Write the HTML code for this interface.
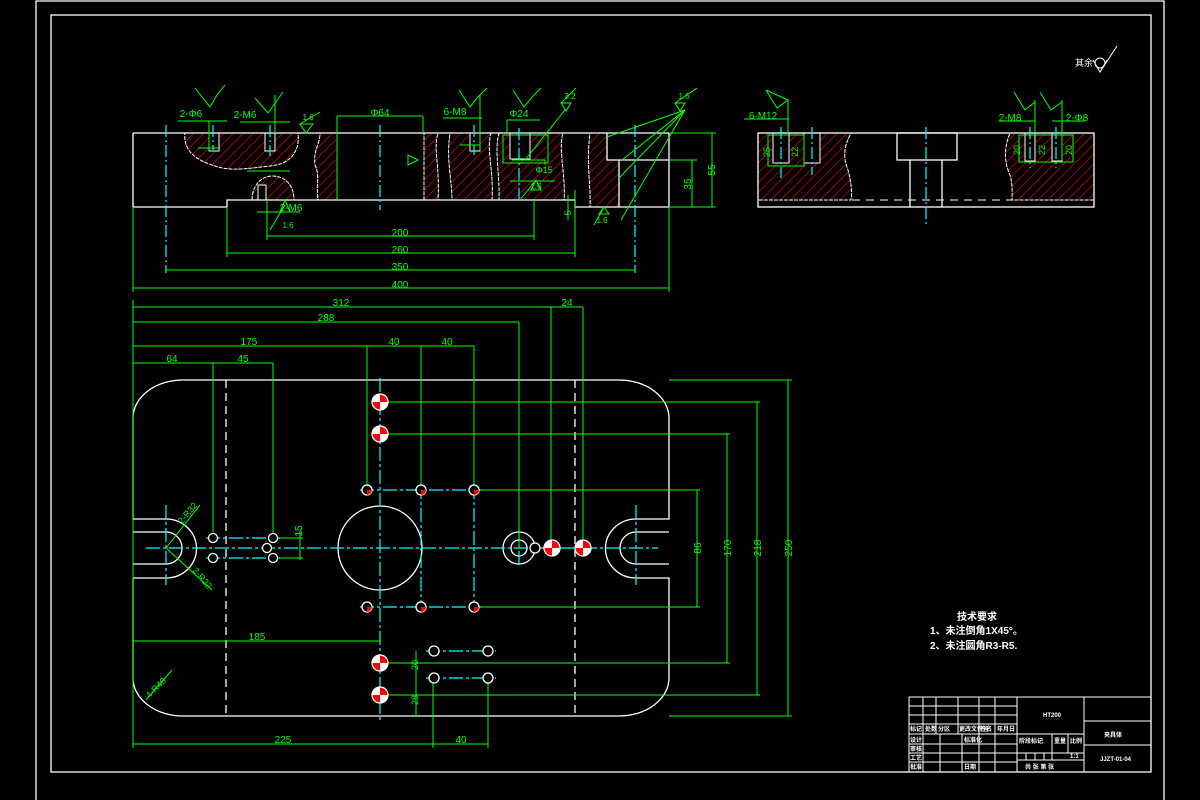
<!DOCTYPE html>
<html><head><meta charset="utf-8"><style>
html,body{margin:0;padding:0;background:#000;}
svg{display:block}
text{font-family:"Liberation Sans","Noto Sans CJK SC",sans-serif;}
</style></head><body>
<svg width="1200" height="800" viewBox="0 0 1200 800" xmlns="http://www.w3.org/2000/svg">
<defs>
<pattern id="h" patternUnits="userSpaceOnUse" width="7" height="7" patternTransform="rotate(45)">
<line x1="0" y1="0" x2="0" y2="7" stroke="#f00" stroke-width="1.2"/>
</pattern>
</defs>
<rect width="1200" height="800" fill="#000"/>
<g fill="none" stroke="#fff" stroke-width="1.3">
<polyline points="36,800 36,1 1164,1 1164,800"/>
<rect x="51" y="15" width="1100" height="757"/>
</g>

<!-- FRONT SECTION VIEW -->
<g fill="url(#h)" stroke="#fff" stroke-width="1" stroke-dasharray="4,1">
<path d="M185,133 L298,133 C300,150 292,164 270,166 C250,168 232,172 215,166 C195,160 183,150 185,133 Z"/>
<path d="M252,200 C252,185 262,176 272,176 C286,176 294,186 294,200 Z"/>
<path d="M320,133 L337,133 L337,200 L318,200 C316,185 320,175 315,165 C313,150 320,145 320,133Z"/>
<path d="M424,133 L438,133 C433,150 440,165 438,200 L424,200 Z"/>
<path d="M450,133 L491,133 C486,150 494,170 492,200 L452,200 C452,180 446,160 450,133Z"/>
<path d="M499,133 L563,133 C558,150 566,175 564,200 L499,200 C500,175 494,150 499,133Z"/>
<path d="M590,133 L607,133 L607,160 L619,160 L619,207 L590,207 C591,185 586,165 590,133Z"/>
</g>
<g fill="#000" stroke="#fff" stroke-width="1">
<rect x="209" y="133" width="10" height="18"/>
<rect x="265" y="133" width="10" height="18"/>
<rect x="470" y="133" width="10" height="18"/>
<rect x="510" y="133" width="20" height="26"/>
<rect x="258" y="185" width="8" height="15"/>
</g>
<g fill="none" stroke="#fff" stroke-width="1.3">
<polyline points="133,133 669,133 669,207"/>
<line x1="133" y1="133" x2="133" y2="207"/>
<line x1="133" y1="207" x2="227" y2="207"/>
<polyline points="227,207 227,200 575,200 575,207 669,207"/>
<polyline points="607,133 607,160 669,160"/>
<line x1="619" y1="160" x2="619" y2="207"/>
</g>
<g stroke="#0ff" stroke-width="1.2" stroke-dasharray="12,3,2,3">
<line x1="166" y1="125" x2="166" y2="273"/>
<line x1="380" y1="125" x2="380" y2="210"/>
<line x1="635" y1="125" x2="635" y2="273"/>
<line x1="519" y1="128" x2="519" y2="200"/>
<line x1="213" y1="125" x2="213" y2="150"/>
<line x1="270" y1="125" x2="270" y2="156"/>
<line x1="474" y1="125" x2="474" y2="155"/>
</g>
<g stroke="#0f0" stroke-width="1" fill="none">
<line x1="267" y1="236" x2="534" y2="236"/><line x1="267" y1="200" x2="267" y2="240"/><line x1="534" y1="200" x2="534" y2="240"/>
<line x1="227" y1="253" x2="575" y2="253"/><line x1="227" y1="207" x2="227" y2="257"/><line x1="575" y1="190" x2="575" y2="257"/>
<line x1="166" y1="270" x2="635" y2="270"/>
<line x1="133" y1="288" x2="669" y2="288"/><line x1="133" y1="207" x2="133" y2="292"/><line x1="669" y1="207" x2="669" y2="292"/>
<line x1="669" y1="133" x2="716" y2="133"/><line x1="669" y1="207" x2="716" y2="207"/><line x1="669" y1="160" x2="697" y2="160"/>
<line x1="712" y1="133" x2="712" y2="207"/><line x1="692" y1="160" x2="692" y2="207"/>
<line x1="337" y1="116" x2="423" y2="116"/><line x1="337" y1="116" x2="337" y2="200"/><line x1="423" y1="116" x2="423" y2="133"/>
<line x1="178" y1="121" x2="227" y2="121"/><line x1="209" y1="121" x2="209" y2="150"/>
<line x1="240" y1="122" x2="290" y2="122"/><line x1="275" y1="95" x2="275" y2="133"/>
<line x1="443" y1="118" x2="482" y2="118"/><line x1="480" y1="95" x2="480" y2="150"/>
<line x1="507" y1="120" x2="540" y2="120"/><line x1="507" y1="120" x2="507" y2="133"/>
<line x1="257" y1="212" x2="300" y2="212"/>
<line x1="622" y1="160" x2="685" y2="110"/><line x1="619" y1="178" x2="685" y2="110"/><line x1="607" y1="137" x2="685" y2="110"/><line x1="621" y1="220" x2="685" y2="110"/>
<line x1="525" y1="160" x2="565" y2="110"/>
<line x1="568" y1="195" x2="568" y2="220"/>
<path d="M512,160 L545,160 L545,165 M510,181 L555,181"/>
<rect x="503" y="135" width="45" height="28"/>
<line x1="247" y1="171" x2="290" y2="171"/>
<line x1="198" y1="148" x2="220" y2="148"/>
<line x1="460" y1="145" x2="480" y2="145"/>
</g>
<g stroke="#0f0" stroke-width="1" fill="none">
<path d="M195,88 L210,107 L217,95 L225,85"/>
<path d="M255,98 L268,113 L276,102 L283,92"/>
<path d="M300,124 L306,133 L313,124 L300,124 L320,112"/>
<path d="M459,90 L470,107 L478,97 L487,88"/>
<path d="M513,90 L524,107 L532,97 L541,88"/>
<path d="M561,103 L566,111 L571,103 Z M561,103 L576,88"/>
<path d="M675,103 L680,111 L685,103 Z M675,103 L697,88"/>
<path d="M408,165 L418,160 L408,155 Z"/>
<path d="M536,180 L531,190 L541,190 Z M536,180 L520,200"/>
<path d="M604,207 L599,214 L609,214 Z M604,207 L594,225"/>
<path d="M285,200 L280,212 L290,212 Z M285,205 L270,230"/>
</g>
<g fill="#0f0" font-size="10" text-anchor="middle">
<text x="400" y="236">200</text><text x="400" y="253">260</text><text x="400" y="270">350</text><text x="400" y="288">400</text>
<text x="380" y="116">Φ64</text><text x="191" y="117">2-Φ6</text><text x="245" y="118">2-M6</text>
<text x="455" y="115">6-M8</text><text x="519" y="117">Φ24</text><text x="291" y="211">2-M6</text>
<text x="308" y="120" font-size="8">1.6</text><text x="570" y="99" font-size="8">3.2</text><text x="684" y="99" font-size="8">1.6</text>
<text x="536" y="189" font-size="8">1.6</text><text x="602" y="223" font-size="8">1.6</text><text x="288" y="228" font-size="8">1.6</text>
<text x="544" y="173" font-size="9">Φ15</text>
<text transform="translate(715,170) rotate(-90)">55</text>
<text transform="translate(691,184) rotate(-90)">35</text>
<text transform="translate(571,213) rotate(-90)" font-size="9">5</text>
</g>

<!-- SIDE SECTION VIEW -->
<g fill="url(#h)" stroke="#fff" stroke-width="1" stroke-dasharray="4,1">
<path d="M758,133 L851,133 C845,145 842,155 848,170 C852,185 852,195 851,200 L758,200 Z"/>
<path d="M1094,133 L1010,133 C1005,145 1003,160 1010,175 C1013,185 1012,195 1012,200 L1094,200 Z"/>
</g>
<g fill="#000" stroke="#fff" stroke-width="1">
<rect x="773" y="133" width="16" height="30"/><rect x="804" y="133" width="16" height="30"/>
<rect x="1025" y="133" width="10" height="28"/><rect x="1052" y="133" width="10" height="28"/>
</g>
<g fill="none" stroke="#fff" stroke-width="1.3">
<rect x="758" y="133" width="336" height="74"/>
<rect x="897" y="133" width="60" height="27"/>
<polyline points="910,160 910,207"/><polyline points="942,160 942,207"/>
</g>
<line x1="852" y1="200" x2="1012" y2="200" stroke="#fff" stroke-width="1" stroke-dasharray="8,6"/>
<g stroke="#0ff" stroke-width="1.2" stroke-dasharray="12,3,2,3">
<line x1="926" y1="127" x2="926" y2="226"/>
<line x1="781" y1="127" x2="781" y2="178"/><line x1="812" y1="127" x2="812" y2="175"/>
<line x1="1030" y1="127" x2="1030" y2="168"/><line x1="1056" y1="127" x2="1056" y2="168"/>
</g>
<g stroke="#0f0" stroke-width="1" fill="none">
<line x1="744" y1="119" x2="789" y2="119"/><line x1="788" y1="100" x2="788" y2="133"/>
<path d="M766,90 L777,108 L788,100 L766,90"/>
<path d="M1014,92 L1025,110 L1035,102"/><path d="M1040,92 L1051,110 L1062,102"/>
<line x1="999" y1="121" x2="1035" y2="121"/><line x1="1052" y1="121" x2="1085" y2="121"/>
<line x1="1062" y1="100" x2="1062" y2="160"/><line x1="1035" y1="100" x2="1035" y2="133"/>
<rect x="768" y="135" width="36" height="31"/>
<rect x="1019" y="135" width="54" height="27"/>
</g>
<g fill="#0f0" font-size="10" text-anchor="middle">
<text x="763" y="119">6-M12</text><text x="1010" y="121">2-M8</text><text x="1077" y="121">2-Φ8</text>
<text transform="translate(770,152) rotate(-90)" font-size="9">25</text>
<text transform="translate(798,152) rotate(-90)" font-size="9">22</text>
<text transform="translate(1020,150) rotate(-90)" font-size="9">20</text>
<text transform="translate(1045,150) rotate(-90)" font-size="9">22</text>
<text transform="translate(1072,150) rotate(-90)" font-size="9">20</text>
</g>
<g fill="#fff" font-size="9"><text x="1075" y="66">其余</text></g>
<path d="M1093,60 L1100,72 L1107,60 M1100,72 L1117,46" stroke="#fff" fill="none"/>
<circle cx="1100" cy="63" r="5" stroke="#fff" fill="none"/>

<!-- PLAN VIEW -->
<g fill="none" stroke="#fff" stroke-width="1.3">
<path d="M183,380 L619,380 A50,38 0 0 1 669,418 L669,519 L636,519"/>
<path d="M636,578 L669,578 L669,678 A50,38 0 0 1 619,716 L183,716 A50,38 0 0 1 133,678 L133,578 L166,578"/>
<path d="M166,519 L133,519 L133,418 A50,38 0 0 1 183,380"/>
<line x1="133" y1="532" x2="166" y2="532"/><line x1="133" y1="564" x2="166" y2="564"/>
<line x1="636" y1="532" x2="669" y2="532"/><line x1="636" y1="564" x2="669" y2="564"/>
<path d="M166,519 A30,29 0 0 1 166,578"/><path d="M166,532 A16,16 0 0 1 166,564"/>
<path d="M636,519 A30,29 0 0 0 636,578"/><path d="M636,532 A16,16 0 0 0 636,564"/>
<circle cx="380" cy="548" r="42"/>
<circle cx="519" cy="548" r="16"/><circle cx="519" cy="548" r="8"/>
</g>
<g stroke="#fff" stroke-width="1.3" stroke-dasharray="8,5">
<line x1="226" y1="380" x2="226" y2="716"/><line x1="575" y1="380" x2="575" y2="716"/>
</g>
<g stroke="#0ff" stroke-width="1.2" stroke-dasharray="14,3,3,3">
<line x1="146" y1="548" x2="658" y2="548"/>
<line x1="380" y1="378" x2="380" y2="723"/>
<line x1="166" y1="505" x2="166" y2="585"/><line x1="636" y1="505" x2="636" y2="585"/>
<line x1="360" y1="490" x2="482" y2="490"/><line x1="360" y1="607" x2="482" y2="607"/>
<line x1="421" y1="485" x2="421" y2="612"/><line x1="474" y1="485" x2="474" y2="612"/>
<line x1="206" y1="538" x2="280" y2="538"/><line x1="206" y1="558" x2="280" y2="558"/>
<line x1="426" y1="651" x2="496" y2="651"/><line x1="426" y1="678" x2="496" y2="678"/>
<line x1="519" y1="528" x2="519" y2="568"/>
</g>
<g stroke="#0f0" stroke-width="1" fill="none">
<line x1="133" y1="307" x2="583" y2="307"/><line x1="133" y1="322" x2="519" y2="322"/>
<line x1="133" y1="346" x2="474" y2="346"/><line x1="133" y1="363" x2="273" y2="363"/>
<line x1="133" y1="300" x2="133" y2="748"/>
<line x1="583" y1="307" x2="583" y2="555"/><line x1="551" y1="307" x2="551" y2="555"/>
<line x1="519" y1="322" x2="519" y2="548"/>
<line x1="367" y1="346" x2="367" y2="490"/><line x1="421" y1="346" x2="421" y2="490"/><line x1="474" y1="346" x2="474" y2="490"/>
<line x1="213" y1="363" x2="213" y2="538"/><line x1="273" y1="363" x2="273" y2="538"/>
<line x1="669" y1="380" x2="792" y2="380"/><line x1="669" y1="716" x2="792" y2="716"/><line x1="788" y1="380" x2="788" y2="716"/>
<line x1="388" y1="402" x2="760" y2="402"/><line x1="388" y1="695" x2="760" y2="695"/><line x1="757" y1="402" x2="757" y2="695"/>
<line x1="388" y1="434" x2="730" y2="434"/><line x1="388" y1="663" x2="730" y2="663"/><line x1="727" y1="434" x2="727" y2="663"/>
<line x1="480" y1="490" x2="700" y2="490"/><line x1="480" y1="607" x2="700" y2="607"/><line x1="697" y1="490" x2="697" y2="607"/>
<line x1="133" y1="641" x2="380" y2="641"/>
<line x1="133" y1="744" x2="488" y2="744"/><line x1="433" y1="678" x2="433" y2="748"/><line x1="488" y1="678" x2="488" y2="748"/>
<line x1="416" y1="651" x2="416" y2="716"/>
<line x1="280" y1="538" x2="303" y2="538"/><line x1="280" y1="558" x2="303" y2="558"/><line x1="300" y1="530" x2="300" y2="560"/>
<line x1="166" y1="548" x2="200" y2="505"/><line x1="166" y1="548" x2="212" y2="590"/>
<line x1="146" y1="700" x2="172" y2="670"/>
</g>
<g fill="#0f0" font-size="10" text-anchor="middle">
<text x="341" y="306">312</text><text x="567" y="306">24</text><text x="326" y="321">288</text>
<text x="249" y="345">175</text><text x="394" y="345">40</text><text x="447" y="345">40</text>
<text x="172" y="362">64</text><text x="243" y="362">45</text>
<text x="257" y="640">185</text><text x="283" y="743">225</text><text x="461" y="743">40</text>
<text transform="translate(792,548) rotate(-90)">250</text>
<text transform="translate(761,548) rotate(-90)">218</text>
<text transform="translate(731,548) rotate(-90)">170</text>
<text transform="translate(701,548) rotate(-90)">86</text>
<text transform="translate(302,531) rotate(-90)">15</text>
<text transform="translate(418,665) rotate(-90)" font-size="9">20</text>
<text transform="translate(418,700) rotate(-90)" font-size="9">28</text>
<text transform="translate(190,515) rotate(-50)" font-size="9">2-R32</text>
<text transform="translate(200,580) rotate(50)" font-size="9">2-R22</text>
<text transform="translate(158,690) rotate(-45)" font-size="9">4-R40</text>
</g>
<g stroke="#fff" stroke-width="1.3">
<g fill="#f00">
<circle cx="380" cy="402" r="8"/><circle cx="380" cy="434" r="8"/><circle cx="380" cy="663" r="8"/><circle cx="380" cy="695" r="8"/>
<circle cx="552" cy="548" r="8"/><circle cx="583" cy="548" r="8"/>
</g>
<g fill="#000">
<circle cx="367" cy="490" r="5"/><circle cx="421" cy="490" r="5"/><circle cx="474" cy="490" r="5"/>
<circle cx="367" cy="607" r="5"/><circle cx="421" cy="607" r="5"/><circle cx="474" cy="607" r="5"/>
<circle cx="213" cy="538" r="4.5"/><circle cx="273" cy="538" r="4.5"/><circle cx="213" cy="558" r="4.5"/><circle cx="273" cy="558" r="4.5"/><circle cx="267" cy="548" r="4.5"/>
<circle cx="434" cy="651" r="5"/><circle cx="488" cy="651" r="5"/><circle cx="434" cy="678" r="5"/><circle cx="488" cy="678" r="5"/>
<circle cx="535" cy="548" r="5"/>
</g>
</g>
<g fill="#fff">
<path d="M380,402 L372,402 A8,8 0 0 1 380,394 Z M380,402 L388,402 A8,8 0 0 1 380,410 Z"/>
<path d="M380,434 L372,434 A8,8 0 0 1 380,426 Z M380,434 L388,434 A8,8 0 0 1 380,442 Z"/>
<path d="M380,663 L372,663 A8,8 0 0 1 380,655 Z M380,663 L388,663 A8,8 0 0 1 380,671 Z"/>
<path d="M380,695 L372,695 A8,8 0 0 1 380,687 Z M380,695 L388,695 A8,8 0 0 1 380,703 Z"/>
<path d="M552,548 L544,548 A8,8 0 0 1 552,540 Z M552,548 L560,548 A8,8 0 0 1 552,556 Z"/>
<path d="M583,548 L575,548 A8,8 0 0 1 583,540 Z M583,548 L591,548 A8,8 0 0 1 583,556 Z"/>
</g>
<g fill="#f00">
<path d="M421,490 L426,490 A5,5 0 0 1 421,495 Z"/><path d="M474,490 L479,490 A5,5 0 0 1 474,495 Z"/><path d="M367,490 L372,490 A5,5 0 0 1 367,495 Z"/>
<path d="M421,607 L426,607 A5,5 0 0 1 421,612 Z"/><path d="M474,607 L479,607 A5,5 0 0 1 474,612 Z"/><path d="M367,607 L372,607 A5,5 0 0 1 367,612 Z"/>
</g>

<g fill="#fff" font-size="10" font-weight="bold">
<text x="957" y="620">技术要求</text>
<text x="930" y="634">1、未注倒角1X45°。</text>
<text x="930" y="649">2、未注圆角R3-R5.</text>
</g>
<g stroke="#fff" stroke-width="1" fill="none">
<rect x="909" y="697" width="242" height="75"/>
<line x1="1017" y1="697" x2="1017" y2="772"/><line x1="1084" y1="697" x2="1084" y2="772"/>
<line x1="909" y1="706" x2="1017" y2="706"/><line x1="909" y1="715" x2="1017" y2="715"/><line x1="909" y1="724" x2="1017" y2="724"/>
<line x1="909" y1="734" x2="1084" y2="734"/><line x1="909" y1="744" x2="1017" y2="744"/><line x1="909" y1="753" x2="1084" y2="753"/><line x1="909" y1="762" x2="1017" y2="762"/>
<line x1="1084" y1="721" x2="1151" y2="721"/><line x1="1084" y1="745" x2="1151" y2="745"/>
<line x1="923" y1="697" x2="923" y2="772"/><line x1="936" y1="697" x2="936" y2="734"/><line x1="958" y1="697" x2="958" y2="734"/><line x1="979" y1="697" x2="979" y2="772"/><line x1="995" y1="697" x2="995" y2="772"/>
<line x1="940" y1="734" x2="940" y2="772"/><line x1="962" y1="734" x2="962" y2="772"/>
<line x1="1052" y1="734" x2="1052" y2="753"/><line x1="1068" y1="734" x2="1068" y2="753"/>
<line x1="1026" y1="753" x2="1026" y2="760"/><line x1="1035" y1="753" x2="1035" y2="760"/><line x1="1044" y1="753" x2="1044" y2="760"/><line x1="1052" y1="753" x2="1052" y2="760"/>
<line x1="1017" y1="760" x2="1084" y2="760"/>
</g>
<g fill="#fff" font-size="6" font-weight="bold">
<text x="1043" y="717">HT200</text><text x="1104" y="737">夹具体</text><text x="1100" y="761">JJZT-01-04</text>
<text x="910" y="731">标记</text><text x="925" y="731">处数</text><text x="938" y="731">分区</text><text x="959" y="731">更改文件号</text><text x="980" y="731">签名</text><text x="997" y="731">年月日</text>
<text x="910" y="742">设计</text><text x="910" y="751">审核</text><text x="910" y="760">工艺</text><text x="910" y="769">批准</text>
<text x="964" y="742">标准化</text><text x="964" y="769">日期</text>
<text x="1019" y="743">阶段标记</text><text x="1054" y="743">重量</text><text x="1070" y="743">比例</text><text x="1070" y="758">1:1</text>
<text x="1025" y="769">共 张 第 张</text>
</g>
</svg>
</body></html>
